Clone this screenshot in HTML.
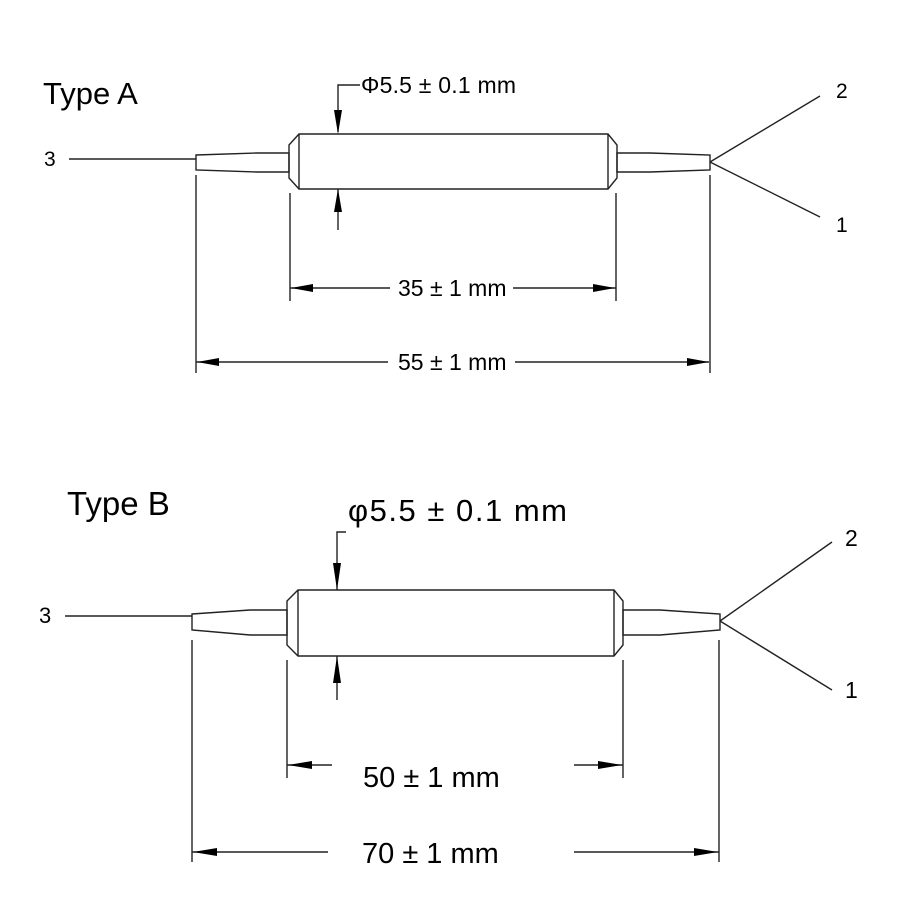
<!DOCTYPE html>
<html><head><meta charset="utf-8"><style>
html,body{margin:0;padding:0;background:#fff}
svg{display:block}
text{font-family:"Liberation Sans",Arial,sans-serif;fill:#000}
</style></head><body>
<svg width="900" height="900" viewBox="0 0 900 900" xmlns="http://www.w3.org/2000/svg">
<g stroke="#222" stroke-width="1.4" fill="none">
<line x1="69" y1="159" x2="196" y2="159"/>
<polygon points="196,155 256,153 289,153 289,172 256,172 196,170"/>
<polygon points="289,145 299,134 608,134 617,145 617,178 608,189 299,189 289,178"/>
<line x1="299" y1="134" x2="299" y2="189"/>
<line x1="608" y1="134" x2="608" y2="189"/>
<polygon points="617,153 650,153 710,155 710,170 650,172 617,172"/>
<line x1="710" y1="162" x2="820" y2="96"/>
<line x1="710" y1="162" x2="820" y2="217"/>
<polyline points="360,85 338,85 338,132"/>
<line x1="338" y1="189" x2="338" y2="230"/>
<line x1="196" y1="175" x2="196" y2="373"/>
<line x1="710" y1="175" x2="710" y2="373"/>
<line x1="290" y1="193" x2="290" y2="301"/>
<line x1="616" y1="193" x2="616" y2="301"/>
<line x1="290" y1="288" x2="390" y2="288"/>
<line x1="513" y1="288" x2="616" y2="288"/>
<line x1="196" y1="362" x2="388" y2="362"/>
<line x1="515" y1="362" x2="709" y2="362"/>
<line x1="65" y1="616" x2="192" y2="616"/>
<polygon points="192,614 250,610 287,610 287,635 250,635 192,630"/>
<polygon points="287,601 298,590 614,590 623,601 623,645 614,656 298,656 287,645"/>
<line x1="298" y1="590" x2="298" y2="656"/>
<line x1="614" y1="590" x2="614" y2="656"/>
<polygon points="623,610 660,610 720,614 720,630 660,635 623,635"/>
<line x1="720" y1="621" x2="832" y2="542"/>
<line x1="720" y1="621" x2="832" y2="690"/>
<polyline points="346,532 337,532 337,590"/>
<line x1="337" y1="656" x2="337" y2="700"/>
<line x1="192" y1="640" x2="192" y2="862"/>
<line x1="719" y1="640" x2="719" y2="862"/>
<line x1="287" y1="660" x2="287" y2="778"/>
<line x1="623" y1="660" x2="623" y2="778"/>
<line x1="287" y1="765" x2="332" y2="765"/>
<line x1="574" y1="765" x2="623" y2="765"/>
<line x1="192" y1="852" x2="328" y2="852"/>
<line x1="574" y1="852" x2="719" y2="852"/>
</g>
<g fill="#000" stroke="none">
<polygon points="338,134 334,110 342,110"/>
<polygon points="338,189 334,212 342,212"/>
<polygon points="291,288 313,284 313,292"/>
<polygon points="615,288 593,284 593,292"/>
<polygon points="197,362 219,358 219,366"/>
<polygon points="709,362 687,358 687,366"/>
<polygon points="337,590 333,563 341,563"/>
<polygon points="337,656 333,683 341,683"/>
<polygon points="288,765 312,761 312,769"/>
<polygon points="622,765 598,761 598,769"/>
<polygon points="193,852 217,848 217,856"/>
<polygon points="718,852 694,848 694,856"/>
</g>
<text x="43" y="104" font-size="31">Type A</text>
<text x="44" y="166" font-size="21">3</text>
<text x="836" y="98" font-size="21">2</text>
<text x="836" y="232" font-size="21">1</text>
<text x="361" y="93" font-size="23" textLength="155">Φ5.5 ± 0.1 mm</text>
<text x="398" y="296" font-size="23">35 ± 1 mm</text>
<text x="398" y="370" font-size="23">55 ± 1 mm</text>
<text x="67" y="515" font-size="33">Type B</text>
<text x="39" y="623" font-size="22">3</text>
<text x="845" y="546" font-size="23">2</text>
<text x="845" y="698" font-size="23">1</text>
<text x="348" y="521" font-size="31" textLength="219">φ5.5 ± 0.1 mm</text>
<text x="363" y="787" font-size="29">50 ± 1 mm</text>
<text x="362" y="863" font-size="29">70 ± 1 mm</text>
</svg>
</body></html>
